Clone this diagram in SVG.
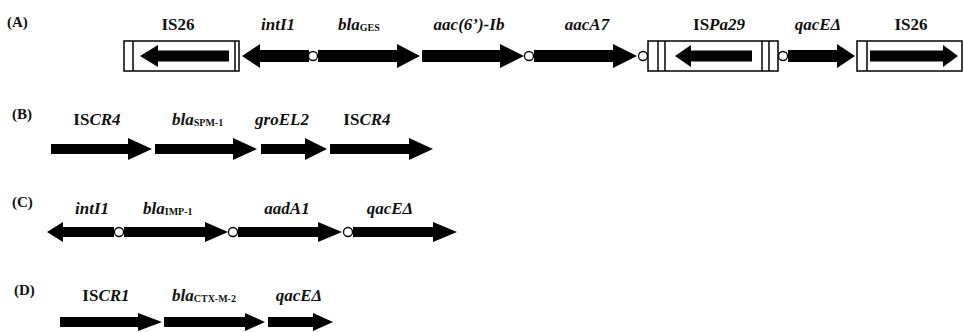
<svg xmlns="http://www.w3.org/2000/svg" width="963" height="332" viewBox="0 0 963 332">
<style>
.t{font-family:"Liberation Serif","Times New Roman",serif;font-weight:bold;font-size:17px;fill:#111;text-anchor:middle}
.p{font-size:15px;text-anchor:start}
.i{font-style:italic}
.s{font-size:10px;font-style:normal}
.a{fill:#000}
.box{fill:#fff;stroke:#000;stroke-width:1.5}
.ln{stroke:#000;stroke-width:1.5}
.att{fill:#fff;stroke:#000;stroke-width:1.3}
</style>
<rect width="963" height="332" fill="#fff"/>

<!-- Row A -->
<g id="rowA">
<text class="t p" x="7" y="27">(A)</text>
<g id="A-IS26-left">
<rect class="box" x="124" y="41" width="115" height="30"/>
<line class="ln" x1="133" y1="41" x2="133" y2="71"/>
<line class="ln" x1="235" y1="41" x2="235" y2="71"/>
<polygon class="a" points="229,50.5 158,50.5 158,45 140,56 158,67 158,61.5 229,61.5"/>
<text class="t" x="178" y="30">IS26</text>
</g>
<g id="A-intI1">
<polygon class="a" points="309,50 260,50 260,44 242,56 260,68 260,62 309,62"/>
<text class="t i" x="278" y="30">intI1</text>
</g>
<circle class="att" cx="313" cy="56" r="4.5"/>
<g id="A-blaGES">
<polygon class="a" points="318,50 397,50 397,44 420,56 397,68 397,62 318,62"/>
<text class="t i" x="338" y="30" style="text-anchor:start">bla<tspan class="s" dy="1">GES</tspan></text>
</g>
<g id="A-aac6Ib">
<polygon class="a" points="422,50 500,50 500,44 524,56 500,68 500,62 422,62"/>
<text class="t i" x="469" y="30">aac(6’)-Ib</text>
</g>
<circle class="att" cx="529" cy="56" r="4.5"/>
<g id="A-aacA7">
<polygon class="a" points="534,50 613,50 613,44 637,56 613,68 613,62 534,62"/>
<text class="t i" x="587" y="30">aacA7</text>
</g>
<circle class="att" cx="643" cy="56" r="4.5"/>
<g id="A-ISPa29">
<rect class="box" x="648" y="41" width="130" height="30"/>
<line class="ln" x1="658" y1="41" x2="658" y2="71"/>
<line class="ln" x1="665" y1="41" x2="665" y2="71"/>
<line class="ln" x1="762" y1="41" x2="762" y2="71"/>
<line class="ln" x1="769" y1="41" x2="769" y2="71"/>
<polygon class="a" points="752,50.5 691,50.5 691,45 675,56 691,67 691,61.5 752,61.5"/>
<text class="t" x="719" y="30">IS<tspan class="i">Pa29</tspan></text>
</g>
<circle class="att" cx="783" cy="56" r="4.5"/>
<g id="A-qacE">
<polygon class="a" points="788,50 837,50 837,44 855,56 837,68 837,62 788,62"/>
<text class="t i" x="818" y="30">qacEΔ</text>
</g>
<g id="A-IS26-right">
<rect class="box" x="857" y="41" width="105" height="30"/>
<line class="ln" x1="867" y1="41" x2="867" y2="71"/>
<polygon class="a" points="870,50.5 943,50.5 943,45 958,56 943,67 943,61.5 870,61.5"/>
<text class="t" x="911" y="30">IS26</text>
</g>
</g>

<!-- Row B -->
<g id="rowB">
<text class="t p" x="12" y="119">(B)</text>
<g id="B-ISCR4-1">
<polygon class="a" points="51,144 128,144 128,138 152,149 128,160 128,154 51,154"/>
<text class="t" x="97" y="125">IS<tspan class="i">CR4</tspan></text>
</g>
<g id="B-blaSPM1">
<polygon class="a" points="155,144 233,144 233,138 257,149 233,160 233,154 155,154"/>
<text class="t i" x="172" y="125" style="text-anchor:start">bla<tspan class="s" dy="1">SPM-1</tspan></text>
</g>
<g id="B-groEL2">
<polygon class="a" points="261,144 305,144 305,138 327,149 305,160 305,154 261,154"/>
<text class="t i" x="282" y="125">groEL2</text>
</g>
<g id="B-ISCR4-2">
<polygon class="a" points="330,144 409,144 409,138 433,149 409,160 409,154 330,154"/>
<text class="t" x="367" y="125">IS<tspan class="i">CR4</tspan></text>
</g>
</g>

<!-- Row C -->
<g id="rowC">
<text class="t p" x="12" y="207">(C)</text>
<g id="C-intI1">
<polygon class="a" points="114,227 63,227 63,222 47,232 63,242 63,237 114,237"/>
<text class="t i" x="92" y="214">intI1</text>
</g>
<circle class="att" cx="119" cy="232" r="4.5"/>
<g id="C-blaIMP1">
<polygon class="a" points="124,227 205,227 205,222 228,232 205,242 205,237 124,237"/>
<text class="t i" x="143" y="214" style="text-anchor:start">bla<tspan class="s" dy="1">IMP-1</tspan></text>
</g>
<circle class="att" cx="233" cy="232" r="4.5"/>
<g id="C-aadA1">
<polygon class="a" points="238,227 318,227 318,222 342,232 318,242 318,237 238,237"/>
<text class="t i" x="287" y="214">aadA1</text>
</g>
<circle class="att" cx="348" cy="232" r="4.5"/>
<g id="C-qacE">
<polygon class="a" points="353,227 433,227 433,222 457,232 433,242 433,237 353,237"/>
<text class="t i" x="390" y="214">qacEΔ</text>
</g>
</g>

<!-- Row D -->
<g id="rowD">
<text class="t p" x="14" y="295">(D)</text>
<g id="D-ISCR1">
<polygon class="a" points="60,317 138,317 138,313 162,322 138,331 138,327 60,327"/>
<text class="t" x="106" y="301">IS<tspan class="i">CR1</tspan></text>
</g>
<g id="D-blaCTXM2">
<polygon class="a" points="164,317 245,317 245,313 265,322 245,331 245,327 164,327"/>
<text class="t i" x="172" y="301" style="text-anchor:start">bla<tspan class="s" dy="1">CTX-M-2</tspan></text>
</g>
<g id="D-qacE">
<polygon class="a" points="268,317 313,317 313,313 333,322 313,331 313,327 268,327"/>
<text class="t i" x="299" y="301">qacEΔ</text>
</g>
</g>
</svg>
